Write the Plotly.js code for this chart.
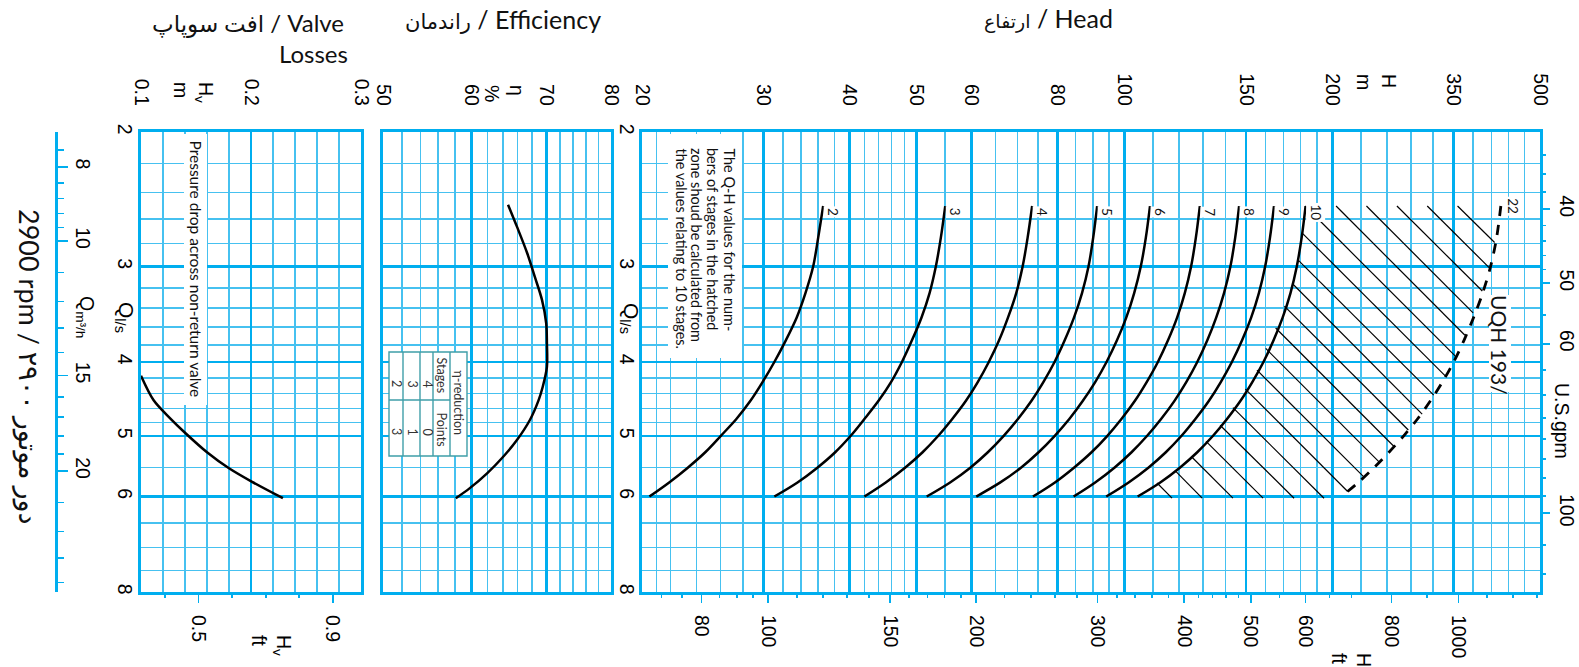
<!DOCTYPE html>
<html>
<head>
<meta charset="utf-8">
<script src="https://cdn.plot.ly/plotly-3.0.1.min.js"></script>
<style>
html,body{margin:0;padding:0;background:#fff;}
#chart{width:1579px;height:667px;}
</style>
</head>
<body>
<div id="chart"></div>
<script>
// ================= DATA =================
// Flow rate Q (l/s) at which the Q-H curves were read
const flowQ = [2.5, 2.75, 3.0, 3.25, 3.5, 3.75, 4.0, 4.25, 4.5, 4.75, 5.0, 5.25, 5.5, 5.75, 6.0];
const stageLabels = ['2', '3', '4', '5', '6', '7', '8', '9', '10'];
// Head H (m) for each number of stages
const headStage2  = [36.6, 36.0, 35.4, 34.5, 33.5, 32.3, 31.1, 29.9, 28.7, 27.4, 26.0, 24.7, 23.3, 21.9, 20.5];
const headStage3  = [55.0, 54.2, 53.3, 52.2, 50.8, 49.2, 47.6, 45.9, 44.0, 42.0, 40.1, 38.1, 35.9, 33.6, 31.1];
const headStage4  = [73.5, 72.4, 71.2, 69.7, 67.8, 65.8, 63.6, 61.3, 58.9, 56.3, 53.7, 51.0, 48.1, 45.1, 42.0];
const headStage5  = [91.3, 90.1, 88.7, 86.8, 84.5, 81.9, 79.2, 76.3, 73.3, 70.1, 66.8, 63.4, 59.8, 55.9, 51.7];
const headStage6  = [108.9, 107.4, 105.6, 103.3, 100.6, 97.5, 94.2, 90.7, 87.0, 83.2, 79.2, 75.1, 70.8, 66.1, 61.0];
const headStage7  = [128.6, 126.9, 124.9, 122.3, 119.2, 115.6, 111.8, 107.7, 103.5, 99.0, 94.4, 89.6, 84.5, 79.3, 73.7];
const headStage8  = [146.6, 144.7, 142.4, 139.4, 135.8, 131.8, 127.5, 122.9, 118.1, 113.0, 107.8, 102.4, 96.7, 90.7, 84.4];
const headStage9  = [164.7, 162.5, 159.9, 156.6, 152.6, 148.0, 143.1, 137.9, 132.5, 126.7, 120.9, 114.8, 108.3, 101.4, 94.1];
const headStage10 = [183.0, 180.6, 177.7, 174.0, 169.5, 164.4, 159.0, 153.2, 147.2, 140.8, 134.3, 127.5, 120.3, 112.7, 104.5];
const maxStageLabel = '22';
const headStage22 = [351.0, 346.1, 339.2, 330.3, 320.4, 310.3, 299.9, 288.8, 277.4, 265.8, 253.7, 241.7, 229.9, 218.2, 206.2];

// Hatched zone: start / end of each hatch line (H in m, Q in l/s)
const hatchStartH = [111.5, 118.4, 125.3, 131.3, 137.6, 143.6, 149.7, 155.6, 160.2, 165.6, 170.5, 175.2, 178.4, 180.8, 182.7, 202.6, 224.2, 248.2, 274.6, 303.8];
const hatchStartQ = [5.76, 5.55, 5.33, 5.08, 4.84, 4.59, 4.34, 4.10, 3.84, 3.61, 3.38, 3.16, 2.94, 2.71, 2.50, 2.50, 2.50, 2.50, 2.50, 2.50];
const hatchEndH   = [117.2, 129.6, 143.6, 158.8, 176.1, 194.6, 210.6, 222.4, 234.0, 245.8, 257.8, 270.0, 280.6, 291.6, 301.6, 311.4, 320.0, 330.0, 337.6, 343.8];
const hatchEndQ   = [6.03, 6.03, 6.03, 6.03, 6.03, 6.03, 5.91, 5.66, 5.41, 5.16, 4.91, 4.68, 4.42, 4.17, 3.93, 3.69, 3.45, 3.23, 3.01, 2.79];

// Efficiency curve
const effQ   = [2.49, 2.66, 2.88, 3.10, 3.32, 3.56, 3.78, 4.06, 4.31, 4.49, 4.76, 5.06, 5.33, 5.59, 5.85, 6.03];
const effPct = [64.7, 65.9, 67.3, 68.4, 69.4, 70.0, 70.1, 70.1, 69.5, 68.9, 67.7, 65.9, 64.0, 62.0, 59.8, 58.1];

// Valve losses curve
const valveQ  = [4.17, 4.49, 4.74, 4.95, 5.25, 5.51, 5.74, 6.03];
const valveHv = [0.100, 0.1115, 0.1265, 0.140, 0.160, 0.180, 0.201, 0.229];

// ---- tick values / labels ----
const qTicks = [2, 3, 4, 5, 6, 8];
const qTickText = ['2', '3', '4', '5', '6', '8'];
const qMinor = [2.2, 2.4, 2.6, 2.8, 3.2, 3.4, 3.6, 3.8, 4.2, 4.4, 4.6, 4.8, 5.5, 6.5, 7, 7.5];
const valveTicks = [0.1, 0.2, 0.3];
const valveTickText = ['0.1', '0.2', '0.3'];
const valveMinor = [0.12, 0.14, 0.16, 0.18, 0.22, 0.24, 0.26, 0.28];
const valveFtTicks = [0.5, 0.9];
const valveFtTickText = ['0.5', '0.9'];
const valveFtMinor = [0.4, 0.6, 0.7, 0.8];
const effTicks = [50, 60, 70, 80];
const effTickText = ['50', '60', '70', '80'];
const effMinor = [52, 54, 56, 58, 62, 64, 66, 68, 72, 74, 76, 78];
const headTicks = [20, 30, 40, 50, 60, 80, 100, 150, 200, 300, 400];
const headTickText = ['20', '30', '40', '50', '60', '80', '100', '150', '200', '350', '500'];
const headMinor = [21, 22, 24, 26, 28, 32, 34, 36, 38, 42, 44, 46, 48, 55, 65, 70, 75, 85, 90, 95,
                   110, 120, 130, 140, 160, 170, 180, 190, 220, 240, 260, 280, 320, 340, 360, 380];
const headFtTicks = [80, 100, 150, 200, 300, 400, 500, 600, 800, 1000];
const headFtTickText = ['80', '100', '150', '200', '300', '400', '500', '600', '800', '1000'];
const headFtMinor = [70, 75, 85, 90, 95, 110, 120, 130, 140, 160, 170, 180, 190, 220, 240, 260, 280,
                     320, 340, 360, 380, 420, 440, 460, 480, 550, 650, 700, 900, 1100, 1200, 1300];
const gpmTicks = [40, 50, 60, 100];
const gpmTickText = ['40', '50', '60', '100'];
const gpmMinor = [34, 36, 38, 42, 44, 46, 48, 55, 65, 70, 75, 80, 85, 90, 95, 110, 120];
const m3hTicks = [8, 10, 15, 20];
const m3hTickText = ['8', '10', '15', '20'];
const m3hMinor = [7.6, 8.4, 8.8, 9.2, 9.6, 11, 12, 13, 14, 16, 17, 18, 19, 22, 24, 26, 28];
const tealRows = [6.5, 7, 7.5];

const noteLines = ['The Q-H values for the num-', 'bers of stages in the hatched',
                   'zone shoud be calculated from', 'the values relating to 10 stages.'];
const tableStages = ['4', '3', '2'];
const tablePoints = ['0', '1', '3'];

// ================= STYLE / LAYOUT =================
const W = 1579, H = 667;
const X = px => px / W;
const Y = py => 1 - py / H;
const CYAN = '#00aeef', CYAN_L = '#46c1f0', TEAL = '#3a9eac', TABLE = '#3f9ea8';
const TICKF = 'Liberation Sans, Arial, sans-serif';
const LATO = 'Lato, DejaVu Sans, sans-serif';
const tickFont = {family: TICKF, size: 19.5, color: '#000'};
const FT = 0.3048, GPM = 0.0630902, M3H = 3.6;
const qRange = [Math.log10(8), Math.log10(2)];
const yDom = [Y(592), Y(132)];

function gridAxis(o) {
  return Object.assign({
    showgrid: true, gridcolor: CYAN, gridwidth: 2.6,
    showline: true, linecolor: CYAN, linewidth: 3.4, mirror: true,
    zeroline: false, ticks: '', tickangle: 90, tickfont: tickFont, tickmode: 'array'
  }, o);
}
function minorGrid(vals) {
  return {tickmode: 'array', tickvals: vals, showgrid: true, gridcolor: CYAN_L, gridwidth: 1.5, ticks: ''};
}
function tickAxis(o, minorVals, len, mlen) {
  return Object.assign({
    showgrid: false, showline: false, zeroline: false, tickmode: 'array',
    ticks: 'outside', ticklen: len, tickwidth: 1.6, tickcolor: CYAN,
    tickangle: 90, tickfont: tickFont,
    minor: {tickmode: 'array', tickvals: minorVals, ticks: 'outside', ticklen: mlen, tickwidth: 1.6, tickcolor: CYAN, showgrid: false}
  }, o);
}

const layout = {
  width: W, height: H, margin: {l: 0, r: 0, t: 0, b: 0},
  paper_bgcolor: '#fff', plot_bgcolor: '#fff', showlegend: false,
  // valve panel
  xaxis: gridAxis({domain: [X(141), X(361)], range: [0.1, 0.3], anchor: 'y', side: 'top',
    tickvals: valveTicks, ticktext: valveTickText, minor: minorGrid(valveMinor), ticklabelstandoff: 16}),
  yaxis: gridAxis({domain: yDom, type: 'log', range: qRange, anchor: 'x', side: 'left',
    tickvals: qTicks, ticktext: qTickText, minor: minorGrid(qMinor), ticklabelstandoff: -4}),
  // efficiency panel
  xaxis2: gridAxis({domain: [X(383), X(611)], type: 'log', range: [Math.log10(50), Math.log10(80)], anchor: 'y2', side: 'top',
    tickvals: effTicks, ticktext: effTickText, minor: minorGrid(effMinor), ticklabelstandoff: 16}),
  yaxis2: gridAxis({domain: yDom, type: 'log', range: qRange, anchor: 'x2', side: 'left',
    tickvals: qTicks, ticktext: qTickText, minor: minorGrid(qMinor), showticklabels: false}),
  // head panel
  xaxis3: gridAxis({domain: [X(642), X(1540)], type: 'log', range: [Math.log10(20), Math.log10(400)], anchor: 'y3', side: 'top',
    tickvals: headTicks, ticktext: headTickText, minor: minorGrid(headMinor), ticklabelstandoff: 16}),
  yaxis3: gridAxis({domain: yDom, type: 'log', range: qRange, anchor: 'x3', side: 'left',
    tickvals: qTicks, ticktext: qTickText, minor: minorGrid(qMinor), ticklabelstandoff: -5}),
  // secondary scales
  xaxis4: tickAxis({overlaying: 'x3', anchor: 'y3', side: 'bottom', type: 'log',
    range: [Math.log10(20 / FT), Math.log10(400 / FT)], tickvals: headFtTicks, ticktext: headFtTickText, ticklabelstandoff: 8}, headFtMinor, 10, 5),
  xaxis5: tickAxis({overlaying: 'x', anchor: 'y', side: 'bottom',
    range: [0.1 / FT, 0.3 / FT], tickvals: valveFtTicks, ticktext: valveFtTickText, ticklabelstandoff: 8}, valveFtMinor, 10, 5),
  yaxis4: tickAxis({overlaying: 'y3', anchor: 'x3', side: 'right', type: 'log',
    range: [Math.log10(8 / GPM), Math.log10(2 / GPM)], tickvals: gpmTicks, ticktext: gpmTickText, ticklabelstandoff: 2}, gpmMinor, 9, 5),
  yaxis5: tickAxis({overlaying: 'y', anchor: 'free', position: X(56), side: 'right', type: 'log',
    range: [Math.log10(8 * M3H), Math.log10(2 * M3H)], tickvals: m3hTicks, ticktext: m3hTickText,
    showline: true, linecolor: CYAN, linewidth: 3, ticklabelstandoff: 0}, m3hMinor, 10, 6),
  shapes: [], annotations: []
};

// ================= TRACES =================
const traces = [];
const curveLine = {color: '#000', width: 2.5, shape: 'spline', smoothing: 0.9};
traces.push({x: valveHv, y: valveQ, xaxis: 'x', yaxis: 'y', mode: 'lines', line: curveLine, hoverinfo: 'skip'});
traces.push({x: effPct, y: effQ, xaxis: 'x2', yaxis: 'y2', mode: 'lines', line: curveLine, hoverinfo: 'skip'});
const stageCurves = [headStage2, headStage3, headStage4, headStage5, headStage6, headStage7, headStage8, headStage9, headStage10];
stageCurves.forEach(c => traces.push({x: c, y: flowQ, xaxis: 'x3', yaxis: 'y3', mode: 'lines', line: curveLine, hoverinfo: 'skip'}));
traces.push({x: headStage22, y: flowQ, xaxis: 'x3', yaxis: 'y3', mode: 'lines',
  line: {color: '#000', width: 2.8, dash: '10px,9px', shape: 'spline', smoothing: 0.9}, hoverinfo: 'skip'});
const hx = [], hy = [];
hatchStartH.forEach((h, i) => { hx.push(h, hatchEndH[i], null); hy.push(hatchStartQ[i], hatchEndQ[i], null); });
traces.push({x: hx, y: hy, xaxis: 'x3', yaxis: 'y3', mode: 'lines', line: {color: '#000', width: 1.2}, hoverinfo: 'skip', connectgaps: false});
// invisible anchors so the secondary scales are drawn
const ghost = (xa, ya, x, y) => ({x: [x], y: [y], xaxis: xa, yaxis: ya, mode: 'markers', marker: {size: 1, opacity: 0}, hoverinfo: 'skip'});
traces.push(ghost('x4', 'y3', 300, 4), ghost('x5', 'y', 0.6, 4), ghost('x3', 'y4', 100, 60), ghost('x', 'y5', 0.2, 15));

// ================= SHAPES =================
const S = layout.shapes;
tealRows.forEach(q => S.push({type: 'line', xref: 'x3 domain', x0: 0, x1: 1, yref: 'y3', y0: Math.log10(q), y1: Math.log10(q),
  line: {color: TEAL, width: 1.5}, layer: 'above'}));
const whiteBox = (x0, y0, x1, y1) => ({type: 'rect', xref: 'paper', yref: 'paper', x0: X(x0), x1: X(x1), y0: Y(y1), y1: Y(y0),
  fillcolor: '#fff', line: {width: 0}, layer: 'above'});
S.push(whiteBox(184, 134, 207, 405));
S.push(whiteBox(668, 134, 742, 358));
S.push(whiteBox(1489, 295, 1511, 392));
// eta-reduction table
S.push({type: 'rect', xref: 'paper', yref: 'paper', x0: X(389), x1: X(467), y0: Y(456), y1: Y(352), fillcolor: '#fff', line: {color: TABLE, width: 1.4}, layer: 'above'});
[403, 420, 433, 450].forEach(px => S.push({type: 'line', xref: 'paper', yref: 'paper', x0: X(px), x1: X(px), y0: Y(456), y1: Y(352), line: {color: TABLE, width: 1.4}, layer: 'above'}));
S.push({type: 'line', xref: 'paper', yref: 'paper', x0: X(389), x1: X(450), y0: Y(400), y1: Y(400), line: {color: TABLE, width: 1.4}, layer: 'above'});

// ================= ANNOTATIONS =================
const A = layout.annotations;
function txt(text, px, py, o) {
  return Object.assign({text: text, x: X(px), y: Y(py), xref: 'paper', yref: 'paper', showarrow: false,
    textangle: 90, xanchor: 'center', yanchor: 'middle', font: {family: LATO, size: 15, color: '#111'}}, o || {});
}
const titleFont = {family: LATO, size: 25, color: '#111'};
const valveTitleFont = {family: LATO, size: 24, color: '#111'};
A.push(txt('<span style="font-size:19px">ارتفاع</span> / Head', 1048, 18, {textangle: 0, font: titleFont}));
A.push(txt('<span style="font-size:21px">راندمان</span> / Efficiency', 503, 19, {textangle: 0, font: titleFont}));
A.push(txt('<span style="font-size:23px">افت سوپاپ</span> / Valve', 346, 23, {textangle: 0, xanchor: 'right', font: valveTitleFont}));
A.push(txt('Losses', 350, 53, {textangle: 0, xanchor: 'right', font: valveTitleFont}));
A.push(txt('H<sub>v</sub><br>m', 194, 92, {font: tickFont, align: 'left'}));
A.push(txt('η<br>%', 505, 93, {font: tickFont, align: 'left'}));
A.push(txt('H<br>m', 1377, 82, {font: tickFont, align: 'left'}));
A.push(txt('H<sub>v</sub><br>ft', 272, 645, {font: tickFont, align: 'left'}));
A.push(txt('H<br>ft', 1352, 660, {font: tickFont, align: 'left'}));
const qFont = {family: TICKF, size: 21, color: '#000'};
A.push(txt('Q<sub>l/s</sub>', 125, 317, {font: qFont}));
A.push(txt('Q<sub>l/s</sub>', 630, 318, {font: qFont}));
A.push(txt('Q<sub>m³/h</sub>', 85, 317, {font: tickFont}));
A.push(txt('U.S.gpm', 1562, 421, {font: tickFont}));
A.push(txt('2900 rpm / ۲۹۰۰ دور موتور', 29, 367, {font: {family: LATO, size: 27, color: '#111'}}));
A.push(txt('Pressure drop across non-return valve', 195.5, 269, {font: {family: LATO, size: 15.5, color: '#111'}}));
const noteX = [729, 713, 697, 681];
noteLines.forEach((t, i) => A.push(txt(t, noteX[i], 146, {yanchor: 'top', font: {family: LATO, size: 14.5, color: '#111'}})));
A.push(txt('UQH 193/', 1500, 345, {font: {family: LATO, size: 21, color: '#111'}}));
// table texts
const tFont = {family: LATO, size: 12.5, color: '#333'};
A.push(txt('η-reduction', 458.5, 403, {font: tFont}));
A.push(txt('Stages', 441.5, 376, {font: tFont}));
A.push(txt('Points', 441.5, 430, {font: tFont}));
const rowX = [426.5, 411.5, 396];
tableStages.forEach((s, i) => A.push(txt(s, rowX[i], 384, {font: tFont})));
tablePoints.forEach((s, i) => A.push(txt(s, rowX[i], 432, {font: tFont})));
// stage labels at the top of each Q-H curve
const stageFont = {family: LATO, size: 13.5, color: '#111'};
stageLabels.forEach((lab, i) => A.push({text: lab, x: Math.log10(stageCurves[i][0]), y: Math.log10(flowQ[0]),
  xref: 'x3', yref: 'y3', xshift: 10, yshift: -6, showarrow: false, textangle: 90, bgcolor: '#fff', borderpad: 1, font: stageFont}));
A.push({text: maxStageLabel, x: Math.log10(headStage22[0]), y: Math.log10(flowQ[0]),
  xref: 'x3', yref: 'y3', xshift: 12, yshift: 0, showarrow: false, textangle: 90, bgcolor: '#fff', borderpad: 1, font: stageFont});

Plotly.newPlot('chart', traces, layout, {staticPlot: true, displayModeBar: false});
</script>
</body>
</html>
